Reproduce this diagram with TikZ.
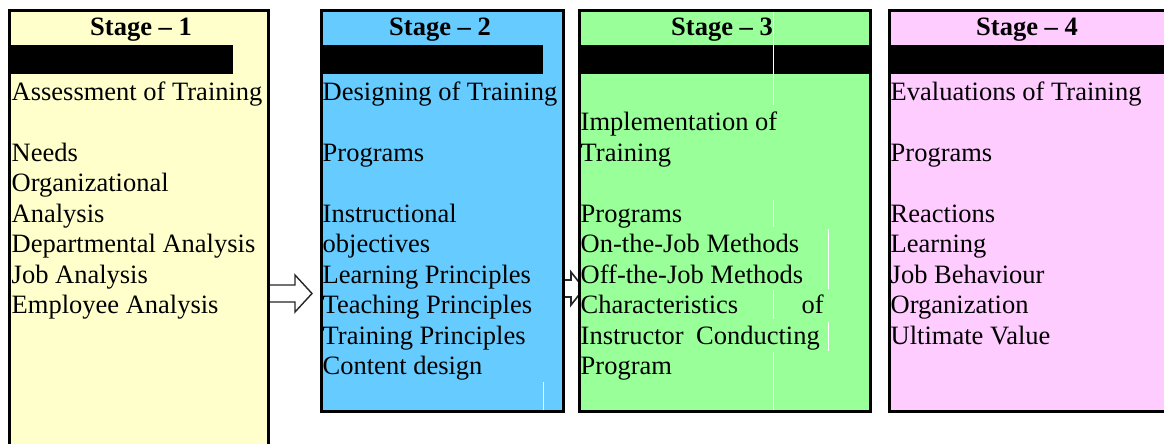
\documentclass[tikz,border=0pt]{standalone}
\usepackage{fontspec}
\setmainfont{Liberation Serif}
\definecolor{stageA}{HTML}{FFFFCC}
\definecolor{stageB}{HTML}{66CCFF}
\definecolor{stageC}{HTML}{99FF99}
\definecolor{stageD}{HTML}{FFCCFF}
\begin{document}
\begin{tikzpicture}[x=1pt,y=-1pt,
  panel/.style={inner sep=0pt, outer sep=0pt, anchor=north west},
  rim/.style={line width=3pt, line cap=rect},
  bar/.style={fill=black},
  head/.style={anchor=base, inner sep=0pt, font=\fontsize{26.5}{30}\selectfont\bfseries},
  body/.style={anchor=base west, inner sep=0pt, font=\fontsize{26.5}{30}\selectfont},
  bodyr/.style={anchor=base east, inner sep=0pt, font=\fontsize{26.5}{30}\selectfont},
  blockarrow/.style={draw=black!85, line width=1.4pt, fill=white, line join=miter},
  seam/.style={draw=white, line width=0.9pt}]
\useasboundingbox (0,0) rectangle (1164,444);

% panel backgrounds
\node[panel, fill=stageA, minimum width=259pt, minimum height=440pt] (s1) at (9.5,10.5) {};
\node[panel, fill=stageB, minimum width=242pt, minimum height=401pt] (s2) at (321.5,10.5) {};
\node[panel, fill=stageC, minimum width=291pt, minimum height=401pt] (s3) at (579.5,10.5) {};
\node[panel, fill=stageD, minimum width=280pt, minimum height=401pt] (s4) at (889.5,10.5) {};

% hollow arrows between the stages
\draw[blockarrow, line width=1.6pt] (s2.east |- 0,280) ++(1.5,0) -- ++(6,0) -- ++(0,-8) -- ++(13,16.5)
  -- ++(-13,16.5) -- ++(0,-8) -- ++(-6,0);
\draw[blockarrow] (s1.east |- 0,285) ++(1.5,0) -- ++(25,0) -- ++(0,-10) -- ++(17,18.5)
  -- ++(-17,18.5) -- ++(0,-10) -- ++(-25,0);

% refill panel 3 inner area over the small arrow
\fill[stageC] (s3.north west) ++(1.5,1.5) rectangle ([xshift=-1.5pt,yshift=1.5pt]s3.south east);

% black bars below the headings
\fill[bar] (11,45) rectangle (233,74);
\fill[bar] (323,45) rectangle (543,74);
\fill[bar] (581,45) rectangle (869,74);
\fill[bar] (891,45) rectangle (1164,74);

% faint cell seams
\draw[seam] (773,12) -- (773,105);
\draw[seam] (773,200) -- (773,227);
\draw[seam] (773,290) -- (773,319);
\draw[seam] (773,352) -- (773,410);
\draw[seam] (828,229) -- (828,289);
\draw[seam] (828,322) -- (828,351);
\draw[seam] (543,382) -- (543,410);

% panel outlines
\draw[rim] (s1.south west) -- (s1.north west) -- (s1.north east) -- (s1.south east);
\draw[rim] (s2.north west) rectangle (s2.south east);
\draw[rim] (s3.north west) rectangle (s3.south east);
\draw[rim] ([xshift=20pt]s4.south east) -- (s4.south west) -- (s4.north west) -- ([xshift=20pt]s4.north east);

% headings
\node[head] (h1) at (141,36) {Stage – 1};
\node[head] (h2) at (440,36) {Stage – 2};
\node[head] (h3) at (722,36) {Stage – 3};
\node[head] (h4) at (1027,36) {Stage – 4};

% stage 1
\node[body] (a0) at (11.5,100) {Assessment of Training};
\node[body] (a2) at (11.5,161) {Needs};
\node[body] (a3) at (11.5,191.5) {Organizational};
\node[body] (a4) at (11.5,222) {Analysis};
\node[body] (a5) at (11.5,252.5) {Departmental Analysis};
\node[body] (a6) at (11.5,283) {Job Analysis};
\node[body] (a7) at (11.5,313.5) {Employee Analysis};

% stage 2
\node[body] (b0) at (322.5,100) {Designing of Training};
\node[body] (b2) at (322.5,161) {Programs};
\node[body] (b4) at (322.5,222) {Instructional};
\node[body] (b5) at (322.5,252.5) {objectives};
\node[body] (b6) at (322.5,283) {Learning Principles};
\node[body] (b7) at (322.5,313.5) {Teaching Principles};
\node[body] (b8) at (322.5,344) {Training Principles};
\node[body] (b9) at (322.5,374.5) {Content design};

% stage 3
\node[body] (c1) at (580.5,130.5) {Implementation of};
\node[body] (c2) at (580.5,161) {Training};
\node[body] (c4) at (580.5,222) {Programs};
\node[body] (c5) at (580.5,252.5) {On-the-Job Methods};
\node[body] (c6) at (580.5,283) {Off-the-Job Methods};
\node[body] (c7) at (580.5,313.5) {Characteristics};
\node[bodyr] (c7r) at (824,313.5) {of};
\node[body] (c8) at (580.5,344) {Instructor};
\node[bodyr] (c8r) at (820,344) {Conducting};
\node[body] (c9) at (580.5,374.5) {Program};

% stage 4
\node[body] (d0) at (890.5,100) {Evaluations of Training};
\node[body] (d2) at (890.5,161) {Programs};
\node[body] (d4) at (890.5,222) {Reactions};
\node[body] (d5) at (890.5,252.5) {Learning};
\node[body] (d6) at (890.5,283) {Job Behaviour};
\node[body] (d7) at (890.5,313.5) {Organization};
\node[body] (d8) at (890.5,344) {Ultimate Value};
\end{tikzpicture}
\end{document}
